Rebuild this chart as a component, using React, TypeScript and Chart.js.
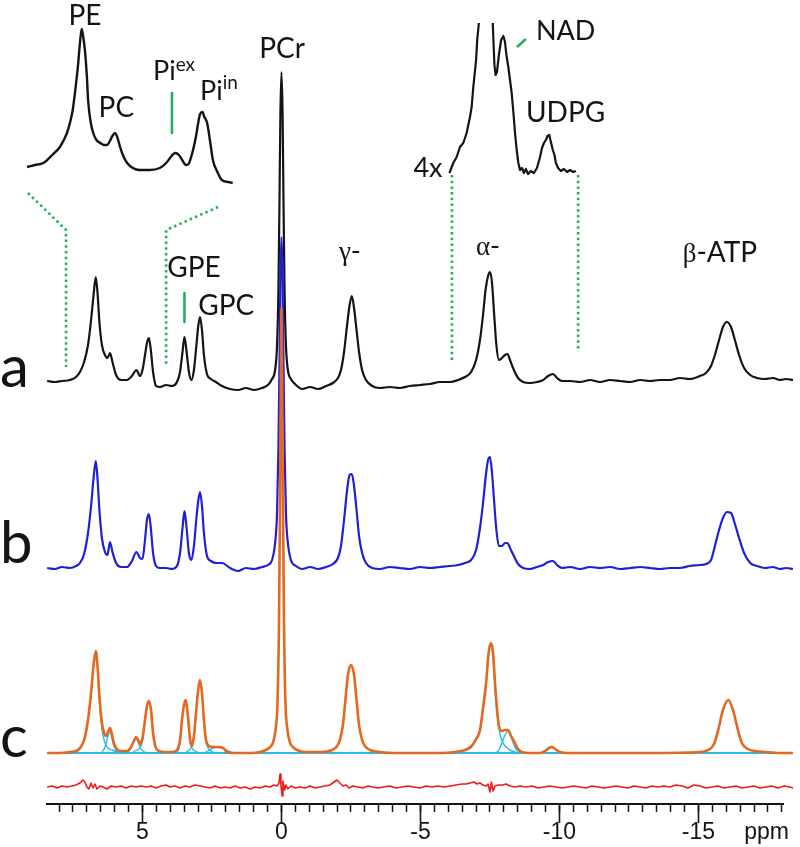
import React, { useEffect, useRef } from "react";
import { Chart, registerables } from "chart.js";
Chart.register(...registerables);

// ---------- axis ----------
const PPM_MIN = -18.04;
const PPM_MAX = 8.435;
const MAJOR_TICKS = [5, 0, -5, -10, -15];
const TICK_LABELS = [
  { v: 5, t: "5" }, { v: 0, t: "0" }, { v: -5, t: "-5" },
  { v: -10, t: "-10" }, { v: -15, t: "-15" }, { v: -17.45, t: "ppm" },
];

// ---------- spectra a and b (shared ppm grid) ----------
const AB_PPM = [8.43, 8.15, 7.90, 7.61, 7.39, 7.25, 7.10, 6.96, 6.85, 6.76,
  6.68, 6.62, 6.55, 6.46, 6.35, 6.26, 6.17, 6.08, 5.95, 5.77,
  5.56, 5.38, 5.22, 5.09, 5.00, 4.91, 4.84, 4.77, 4.70, 4.62,
  4.51, 4.37, 4.15, 3.94, 3.76, 3.65, 3.56, 3.49, 3.42, 3.33,
  3.24, 3.15, 3.06, 2.99, 2.93, 2.86, 2.79, 2.68, 2.54, 2.36,
  2.14, 1.85, 1.56, 1.28, 0.99, 0.70, 0.49, 0.34, 0.23, 0.16,
  0.11, 0.07, 0.04, 0.00, -0.04, -0.07, -0.11, -0.16, -0.23, -0.34,
  -0.52, -0.74, -1.03, -1.31, -1.60, -1.85, -2.03, -2.14, -2.25, -2.36,
  -2.45, -2.53, -2.61, -2.70, -2.79, -2.90, -3.04, -3.26, -3.54, -3.90,
  -4.26, -4.62, -4.98, -5.34, -5.70, -6.06, -6.35, -6.60, -6.82, -7.00,
  -7.14, -7.25, -7.34, -7.43, -7.50, -7.57, -7.64, -7.73, -7.82, -7.93,
  -8.04, -8.13, -8.22, -8.36, -8.51, -8.69, -8.94, -9.19, -9.41, -9.59,
  -9.77, -9.91, -10.09, -10.38, -10.74, -11.10, -11.46, -11.82, -12.18, -12.54,
  -12.90, -13.26, -13.61, -13.97, -14.33, -14.69, -15.05, -15.27, -15.45, -15.59,
  -15.74, -15.88, -16.02, -16.17, -16.31, -16.46, -16.64, -16.86, -17.10, -17.39,
  -17.68, -17.93, -18.15, -18.40];

const A_INT = [3, 2, 3, 4, 7, 12, 22, 39, 64, 89,
  107, 92, 62, 39, 29, 26, 31, 22, 9, 4,
  4, 8, 14, 8, 14, 29, 41, 46, 34, 12,
  -2, -3, -1, -2, 2, 12, 32, 47, 34, 12,
  4, 14, 39, 59, 67, 54, 29, 10, 5, 2,
  -2, -5, -6, -4, -6, -4, -1, 5, 14, 39,
  94, 189, 269, 312, 269, 189, 94, 39, 14, 5,
  -1, -5, -3, -5, -2, 1, 6, 14, 32, 59,
  79, 88, 76, 54, 32, 14, 4, -2, -4, -3,
  -4, -2, -1, 0, 2, 2, 4, 7, 12, 24,
  44, 69, 94, 108, 112, 102, 74, 39, 24, 26,
  29, 30, 24, 14, 6, 2, 1, 2, 4, 8,
  10, 6, 3, 3, 2, 4, 2, 4, 3, 2,
  4, 3, 4, 4, 6, 5, 8, 11, 18, 29,
  44, 57, 62, 57, 44, 29, 16, 9, 6, 5,
  6, 4, 5, 4];

const B_INT = [0, -1, 1, 0, 2, 5, 14, 35, 62, 90,
  107, 90, 58, 30, 16, 13, 26, 16, 5, 1,
  1, 7, 16, 10, 9, 28, 48, 54, 40, 15,
  2, 0, 0, -1, 2, 15, 40, 57, 42, 15,
  8, 22, 50, 68, 76, 62, 35, 12, 7, 5,
  5, 0, -3, 0, -1, 1, 3, 8, 25, 55,
  120, 210, 290, 331, 290, 210, 120, 55, 25, 8,
  2, -1, 1, -1, 1, 4, 10, 22, 48, 78,
  93, 94, 82, 58, 32, 15, 5, 0, -1, 1,
  0, -1, 1, 0, 1, 2, 3, 5, 8, 18,
  40, 65, 90, 108, 111, 96, 70, 38, 22, 22,
  25, 25, 20, 12, 4, 0, -1, 1, 3, 6,
  7, 3, 0, 1, -1, 1, 0, 1, -1, 0,
  1, 0, -1, 0, 0, 2, 3, 4, 8, 22,
  38, 50, 56, 55, 44, 30, 15, 5, 2, 0,
  1, -1, 0, -1];

// ---------- spectrum c (fit) ----------
const C_PPM = [8.43, 7.97, 7.61, 7.39, 7.25, 7.10, 6.96, 6.85, 6.76, 6.68,
  6.62, 6.55, 6.46, 6.38, 6.31, 6.24, 6.17, 6.10, 6.03, 5.92,
  5.77, 5.56, 5.41, 5.31, 5.23, 5.16, 5.07, 5.00, 4.91, 4.84,
  4.77, 4.69, 4.62, 4.53, 4.41, 4.19, 3.94, 3.76, 3.65, 3.56,
  3.45, 3.36, 3.29, 3.23, 3.15, 3.06, 2.99, 2.93, 2.86, 2.79,
  2.72, 2.61, 2.46, 2.28, 2.10, 1.96, 1.67, 1.13, 0.77, 0.56,
  0.41, 0.31, 0.22, 0.14, 0.09, 0.054, 0.018, 0, -0.018, -0.054,
  -0.09, -0.14, -0.22, -0.31, -0.41, -0.56, -0.85, -1.38, -1.82, -2.00,
  -2.10, -2.21, -2.30, -2.39, -2.50, -2.61, -2.70, -2.79, -2.90, -3.00,
  -3.18, -3.54, -4.26, -5.70, -6.24, -6.60, -6.84, -7.00, -7.14, -7.25,
  -7.36, -7.45, -7.53, -7.61, -7.68, -7.75, -7.82, -7.93, -8.04, -8.15,
  -8.26, -8.40, -8.51, -8.64, -8.94, -9.30, -9.48, -9.62, -9.72, -9.84,
  -10.02, -10.38, -13.26, -15.05, -15.41, -15.56, -15.71, -15.88, -16.07, -16.24,
  -16.42, -16.56, -16.78, -17.03, -17.39, -17.93, -18.40];

const C_INT = [0, 0, 1, 2, 5, 13, 33, 60, 88, 102,
  88, 57, 30, 20, 17, 21, 25, 19, 10, 4,
  2, 2, 6, 12, 16, 13, 9, 15, 33, 47,
  52, 42, 20, 6, 2, 1, 1, 3, 13, 38,
  53, 35, 14, 7, 17, 45, 65, 73, 60, 33,
  14, 7, 6, 6, 5, 1, 0, 0, 1, 3,
  6, 10, 22, 53, 130, 250, 390, 445, 390, 250,
  130, 53, 22, 10, 6, 3, 1, 1, 3, 7,
  13, 28, 53, 78, 88, 78, 53, 28, 13, 7,
  3, 1, 0, 0, 1, 3, 7, 14, 23, 45,
  70, 100, 110, 100, 70, 45, 27, 22, 23, 23,
  17, 10, 4, 1, 0, 0, 2, 5, 6, 4,
  1, 0, 0, 1, 4, 9, 23, 43, 53, 43,
  23, 10, 4, 2, 1, 0, 0];

// ---------- fitted components (ppm, intensity) ----------
const COMP_BASE = [[8.43, 0], [-18.40, 0]];
const COMP_PE = [[7.43, 1], [7.25, 4], [7.10, 12], [6.96, 33], [6.85, 60], [6.76, 87], [6.68, 101], [6.62, 86], [6.55, 52], [6.46, 24], [6.38, 13], [6.31, 8], [6.24, 5], [6.10, 3], [5.88, 1], [5.63, 0]];
const COMP_PC = [[6.46, 1], [6.38, 4], [6.31, 9], [6.24, 17], [6.17, 22], [6.10, 15], [6.03, 7], [5.92, 2], [5.77, 0]];
const COMP_PIEX = [[5.52, 1], [5.41, 5], [5.31, 11], [5.23, 15], [5.16, 11], [5.07, 5], [4.98, 2], [4.84, 0]];
const COMP_PIIN = [[5.34, 1], [5.20, 3], [5.09, 5], [5.00, 12], [4.91, 31], [4.84, 46], [4.77, 52], [4.69, 42], [4.62, 20], [4.53, 7], [4.41, 2], [4.19, 0]];
const COMP_GPE = [[3.79, 1], [3.69, 4], [3.65, 12], [3.56, 37], [3.45, 53], [3.36, 33], [3.29, 12], [3.22, 5], [3.11, 2], [2.93, 0]];
const COMP_GPC = [[3.47, 0], [3.36, 2], [3.26, 5], [3.15, 14], [3.06, 44], [2.99, 65], [2.93, 73], [2.86, 60], [2.79, 32], [2.72, 12], [2.64, 5], [2.54, 2], [2.36, 0]];
const COMP_SMALL = [[2.79, 0], [2.64, 2], [2.46, 5], [2.28, 6], [2.10, 5], [1.92, 2], [1.74, 0]];
const COMP_ALPHA = [[-6.60, 2], [-6.84, 6], [-7.00, 13], [-7.14, 22], [-7.25, 44], [-7.36, 69], [-7.45, 99], [-7.53, 108], [-7.61, 97], [-7.68, 67], [-7.75, 40], [-7.86, 19], [-7.97, 10], [-8.12, 5], [-8.29, 2], [-8.58, 0]];
const COMP_NAD = [[-7.72, 0], [-7.82, 3], [-7.93, 10], [-8.04, 18], [-8.15, 22], [-8.26, 16], [-8.36, 8], [-8.47, 3], [-8.62, 0]];
const COMP_UDPG = [[-9.33, 0], [-9.48, 2], [-9.62, 5], [-9.72, 6], [-9.84, 4], [-10.02, 1], [-10.16, 0]];

// ---------- residual ----------
const RES_PPM = [8.43, 8.25, 8.07, 7.90, 7.72, 7.54, 7.39, 7.25, 7.14, 7.07,
  7.00, 6.93, 6.85, 6.78, 6.71, 6.64, 6.53, 6.42, 6.28, 6.13,
  5.95, 5.77, 5.59, 5.41, 5.23, 5.05, 4.87, 4.69, 4.51, 4.33,
  4.15, 4.01, 3.83, 3.65, 3.47, 3.29, 3.11, 2.93, 2.75, 2.57,
  2.39, 2.21, 2.03, 1.85, 1.67, 1.49, 1.31, 1.13, 0.95, 0.77,
  0.59, 0.41, 0.27, 0.16, 0.09, 0.05, 0.02, -0.02, -0.05, -0.11,
  -0.16, -0.23, -0.34, -0.49, -0.67, -0.85, -1.03, -1.21, -1.38, -1.56,
  -1.74, -1.89, -2.00, -2.10, -2.21, -2.32, -2.43, -2.57, -2.75, -2.93,
  -3.11, -3.29, -3.47, -3.65, -3.90, -4.12, -4.33, -4.55, -4.77, -4.98,
  -5.20, -5.41, -5.63, -5.85, -6.06, -6.28, -6.49, -6.64, -6.78, -6.92,
  -7.03, -7.14, -7.25, -7.36, -7.43, -7.50, -7.55, -7.61, -7.68, -7.79,
  -7.93, -8.08, -8.22, -8.40, -8.58, -8.79, -9.01, -9.23, -9.44, -9.66,
  -9.87, -10.09, -10.31, -10.52, -10.74, -10.95, -11.17, -11.39, -11.60, -11.82,
  -12.03, -12.25, -12.46, -12.68, -12.90, -13.11, -13.33, -13.54, -13.76, -13.97,
  -14.19, -14.41, -14.62, -14.84, -15.05, -15.27, -15.49, -15.70, -15.92, -16.13,
  -16.35, -16.56, -16.78, -17.00, -17.21, -17.43, -17.64, -17.86, -18.08, -18.29,
  -18.40];
const RES_INT = [0, 1, -1, 1, 0, 1, 2, 4, 7, 5,
  0, -2, 4, -1, 3, -2, 1, 0, -2, 1,
  0, 1, -1, 1, 0, 1, 0, 1, -1, 1,
  2, 0, 1, -1, 1, 0, 2, 1, 0, -1,
  1, -1, 0, -1, 1, -1, 0, -2, 0, -1,
  1, 0, 2, 1, 4, 13, 2, -9, 6, -3,
  2, -2, 1, -1, 0, -1, 1, -1, 0, 1,
  2, 5, 7, 4, 1, 2, -1, 1, 0, -1,
  1, 0, -1, 0, 1, -1, 0, 1, 0, -1,
  1, 0, 1, 0, 1, 2, 3, 3, 4, 5,
  3, 4, 2, 1, 3, -5, 5, -4, 1, 2,
  2, 3, 1, 0, 1, 0, 1, -1, 0, 1,
  0, -1, 0, 1, 0, -1, 1, 0, -1, 0,
  1, 0, -1, 1, 0, -1, 1, 0, 1, 0,
  2, 1, -1, 2, 1, -1, 0, 1, -1, 0,
  1, -1, 0, 1, -1, 0, 1, -1, 1, 0,
  -1];

// ---------- inset 1 (expanded 7.5 - 4.3 ppm) ----------
const INSET1_PPM = [7.535, 7.41, 7.28, 7.14, 7.02, 6.96, 6.91, 6.86, 6.82, 6.78,
  6.74, 6.71, 6.68, 6.66, 6.63, 6.60, 6.58, 6.54, 6.50, 6.45,
  6.39, 6.33, 6.28, 6.24, 6.20, 6.16, 6.12, 6.08, 6.03, 5.97,
  5.88, 5.78, 5.62, 5.46, 5.36, 5.30, 5.22, 5.16, 5.11, 5.05,
  5.01, 4.97, 4.94, 4.89, 4.86, 4.83, 4.79, 4.77, 4.72, 4.67,
  4.63, 4.56, 4.49, 4.39, 4.32];
const INSET1_INT = [16, 18, 20, 28, 36, 43, 50, 61, 73, 93,
  116, 138, 154, 148, 133, 108, 83, 61, 50, 43,
  40, 38, 38, 42, 47, 50, 45, 36, 27, 20,
  15, 13, 13, 15, 20, 25, 30, 28, 23, 18,
  19, 26, 33, 48, 60, 69, 71, 67, 60, 40,
  23, 11, 3, 1, 0];

// ---------- inset 2 (4x, -6 to -10.6 ppm; top of alpha cut off) ----------
const INSET2_PPM = [-6.04, -6.18, -6.30, -6.42, -6.54, -6.66, -6.78, -6.84, -6.90, -7.00,
  -7.04, -7.10, -7.35, -7.60, -7.63, -7.66, -7.70, -7.75, -7.82, -7.90,
  -7.98, -8.04, -8.09, -8.16, -8.22, -8.28, -8.35, -8.40, -8.46, -8.52,
  -8.58, -8.65, -8.72, -8.79, -8.87, -8.97, -9.08, -9.19, -9.30, -9.37,
  -9.44, -9.51, -9.57, -9.63, -9.69, -9.76, -9.82, -9.87, -9.95, -10.05,
  -10.16, -10.27, -10.38, -10.49, -10.59];
const INSET2_INT = [0, 10, 16, 26, 30, 40, 56, 66, 86, 113,
  133, 150, null, 150, 128, 108, 98, 101, 118, 133,
  137, 131, 118, 106, 93, 80, 58, 40, 23, 10,
  3, 5, 0, 4, -1, 2, 0, 5, 16, 25,
  30, 33, 37, 38, 31, 23, 18, 10, 5, 2,
  4, 1, 3, 1, 2];

// ---------- guide lines (ppm, height) ----------
const GUIDE_LEFT = [[9.12, 607], [7.75, 570], [7.75, 433]];
const GUIDE_RIGHT = [[2.28, 593], [4.15, 570], [4.15, 433]];
const GUIDE_ALPHA_L = [[-6.13, 625], [-6.13, 440]];
const GUIDE_ALPHA_R = [[-10.67, 625], [-10.67, 448]];
const MARK_PIEX = [[3.94, 707], [3.94, 667]];
const MARK_GPE = [[3.49, 507], [3.49, 478]];
const MARK_NAD = [[-8.47, 753], [-8.79, 761]];

const SANS = "Lato, 'Open Sans', sans-serif";
const SERIF = "'Liberation Serif', 'DejaVu Serif', serif";
const AXIS_FONT = "23px 'Liberation Sans', Arial, sans-serif";

const LABELS = [
  { ppm: 7.07, y: 775, align: "center", parts: [{ text: "PE", size: 28 }] },
  { ppm: 5.94, y: 683, align: "center", parts: [{ text: "PC", size: 28 }] },
  { ppm: 4.62, y: 720, align: "left", parts: [{ text: "Pi", size: 27 }, { text: "ex", size: 19, rise: 9 }] },
  { ppm: 2.93, y: 700, align: "left", parts: [{ text: "Pi", size: 27 }, { text: "in", size: 19, rise: 11 }] },
  { ppm: -0.02, y: 742, align: "center", parts: [{ text: "PCr", size: 28 }] },
  { ppm: -10.22, y: 760, align: "center", parts: [{ text: "NAD", size: 27 }] },
  { ppm: -10.22, y: 678, align: "center", parts: [{ text: "UDPG", size: 28 }] },
  { ppm: -5.27, y: 623, align: "center", parts: [{ text: "4x", size: 27 }] },
  { ppm: 3.15, y: 523, align: "center", parts: [{ text: "GPE", size: 28 }] },
  { ppm: 1.99, y: 485, align: "center", parts: [{ text: "GPC", size: 28 }] },
  { ppm: -2.46, y: 540, align: "center", parts: [{ text: "\u03b3", size: 27, serif: true }, { text: "-", size: 27 }] },
  { ppm: -7.43, y: 545, align: "center", parts: [{ text: "\u03b1", size: 27, serif: true }, { text: "-", size: 27 }] },
  { ppm: -15.77, y: 538, align: "center", parts: [{ text: "\u03b2", size: 27, serif: true }, { text: "-ATP", size: 28 }] },
  { ppm: 10.13, y: 413, align: "left", parts: [{ text: "a", size: 58 }] },
  { ppm: 10.13, y: 237, align: "left", parts: [{ text: "b", size: 58 }] },
  { ppm: 10.13, y: 43, align: "left", parts: [{ text: "c", size: 58 }] },
];

// vertical stacking of traces
const BASE_A = 416;
const BASE_B = 232;
const BASE_C = 47;
const BASE_RES = 13;
const BASE_INSET1 = 617;
const BASE_INSET2 = 627;

const series = (xs: number[], ys: (number | null)[], base: number) =>
  xs.map((x, i) => ({ x, y: ys[i] === null ? null : (ys[i] as number) + base }));
const pairs = (p: number[][], base: number) => p.map(([x, y]) => ({ x, y: y + base }));

const BLACK = "#141414";
const BLUE = "#1f1fd6";
const ORANGE = "#e4681f";
const LIGHTBLUE = "#2cb8ee";
const RED = "#ee1c1c";
const GREEN = "#22b25a";

function line(data: any[], color: string, width: number, extra: any = {}) {
  return {
    type: "line",
    data,
    borderColor: color,
    backgroundColor: color,
    borderWidth: width,
    pointRadius: 0,
    pointHoverRadius: 0,
    fill: false,
    clip: false,
    cubicInterpolationMode: "monotone",
    borderJoinStyle: "round",
    ...extra,
  };
}
const straight = { cubicInterpolationMode: "default", tension: 0 };
const dotted = { borderDash: [2.5, 3.2], cubicInterpolationMode: "default", tension: 0 };

const annotPlugin = {
  id: "annotPlugin",
  afterDatasetsDraw(chart: any) {
    const ctx = chart.ctx;
    const xs = chart.scales.x;
    const ys = chart.scales.y;
    ctx.save();
    ctx.fillStyle = BLACK;
    ctx.textBaseline = "alphabetic";
    ctx.textAlign = "left";
    for (const lab of LABELS) {
      const px = xs.getPixelForValue(lab.ppm);
      const py = ys.getPixelForValue(lab.y);
      const widths = lab.parts.map((p: any) => {
        ctx.font = `${p.size}px ${p.serif ? SERIF : SANS}`;
        return ctx.measureText(p.text).width;
      });
      const total = widths.reduce((a: number, b: number) => a + b, 0);
      let x = lab.align === "center" ? px - total / 2 : px;
      lab.parts.forEach((p: any, i: number) => {
        ctx.font = `${p.size}px ${p.serif ? SERIF : SANS}`;
        ctx.fillText(p.text, x, py - (p.rise || 0));
        x += widths[i];
      });
    }
    // longer major ticks and axis labels
    const yb = chart.chartArea.bottom;
    ctx.strokeStyle = BLACK;
    ctx.lineWidth = 1.6;
    for (const v of MAJOR_TICKS) {
      const px = xs.getPixelForValue(v);
      ctx.beginPath();
      ctx.moveTo(px, yb);
      ctx.lineTo(px, yb + 19);
      ctx.stroke();
    }
    ctx.font = AXIS_FONT;
    ctx.textAlign = "center";
    for (const tl of TICK_LABELS) {
      ctx.fillText(tl.t, xs.getPixelForValue(tl.v), yb + 35);
    }
    ctx.restore();
  },
};

export default function App() {
  const ref = useRef<HTMLCanvasElement>(null);
  useEffect(() => {
    document.body.style.margin = "0";
    const datasets: any[] = [
      line(series(C_PPM, C_INT, BASE_C), ORANGE, 2.6),
      line(pairs(COMP_PE, BASE_C), LIGHTBLUE, 1.4),
      line(pairs(COMP_PC, BASE_C), LIGHTBLUE, 1.4),
      line(pairs(COMP_PIEX, BASE_C), LIGHTBLUE, 1.4),
      line(pairs(COMP_PIIN, BASE_C), LIGHTBLUE, 1.4),
      line(pairs(COMP_GPE, BASE_C), LIGHTBLUE, 1.4),
      line(pairs(COMP_GPC, BASE_C), LIGHTBLUE, 1.4),
      line(pairs(COMP_SMALL, BASE_C), LIGHTBLUE, 1.4),
      line(pairs(COMP_ALPHA, BASE_C), LIGHTBLUE, 1.4),
      line(pairs(COMP_NAD, BASE_C), LIGHTBLUE, 1.4),
      line(pairs(COMP_UDPG, BASE_C), LIGHTBLUE, 1.4),
      line(pairs(COMP_BASE, BASE_C), LIGHTBLUE, 2),
      line(series(AB_PPM, B_INT, BASE_B), BLUE, 2.2),
      line(series(AB_PPM, A_INT, BASE_A), BLACK, 2.2),
      line(series(RES_PPM, RES_INT, BASE_RES), RED, 1.6, straight),
      line(series(INSET1_PPM, INSET1_INT, BASE_INSET1), BLACK, 2.4, { xAxisID: "xi" }),
      line(series(INSET2_PPM, INSET2_INT, BASE_INSET2), BLACK, 2.2, { ...straight, spanGaps: false }),
      line(pairs(GUIDE_LEFT, 0), GREEN, 2.6, dotted),
      line(pairs(GUIDE_RIGHT, 0), GREEN, 2.6, dotted),
      line(pairs(GUIDE_ALPHA_L, 0), GREEN, 2.6, dotted),
      line(pairs(GUIDE_ALPHA_R, 0), GREEN, 2.6, dotted),
      line(pairs(MARK_PIEX, 0), GREEN, 2.6, straight),
      line(pairs(MARK_GPE, 0), GREEN, 2.6, straight),
      line(pairs(MARK_NAD, 0), GREEN, 2.6, straight),
    ];
    const chart = new Chart(ref.current as HTMLCanvasElement, {
      type: "line",
      data: { datasets },
      options: {
        animation: false,
        responsive: false,
        devicePixelRatio: 1,
        events: [],
        layout: { padding: { left: 47, right: 17, top: 0, bottom: 35 } },
        plugins: { legend: { display: false }, tooltip: { enabled: false } },
        scales: {
          x: {
            type: "linear",
            position: "bottom",
            min: PPM_MIN,
            max: PPM_MAX,
            reverse: true,
            grid: { drawOnChartArea: false, drawTicks: true, tickLength: 8, tickWidth: 1.5, tickColor: BLACK },
            border: { display: true, color: BLACK, width: 2 },
            ticks: {
              display: false,
              stepSize: 0.5,
              autoSkip: false,
              includeBounds: false,
            },
          },
          xi: {
            type: "linear",
            display: false,
            min: -4.278,
            max: 7.222,
            reverse: true,
          },
          y: { type: "linear", display: false, min: -4, max: 800 },
        },
      } as any,
      plugins: [annotPlugin],
    } as any);
    return () => chart.destroy();
  }, []);
  return (
    <div style={{ width: 800, height: 847, background: "#fff" }}>
      <canvas ref={ref} width={800} height={847} style={{ display: "block", width: 800, height: 847 }} />
    </div>
  );
}
